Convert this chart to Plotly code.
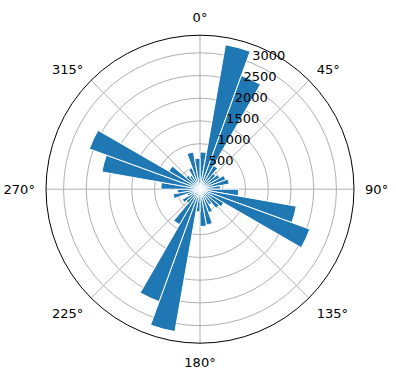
import plotly.graph_objects as go

# bin centers (degrees, clockwise from north) and counts
directions = [5, 15, 25, 35, 45, 55, 65, 75, 85,
              95, 105, 115, 125, 135, 145, 155, 165, 175,
              185, 195, 205, 215, 225, 235, 245, 255, 265,
              275, 285, 295, 305, 315, 325, 335, 345, 355]
counts = [820, 3225, 2660, 600, 450, 500, 600, 650, 450,
          850, 2150, 2570, 600, 550, 400, 550, 800, 820,
          500, 3180, 2630, 900, 400, 450, 300, 600, 500,
          860, 2190, 2590, 790, 400, 350, 500, 830, 680]
radial_ticks = [500, 1000, 1500, 2000, 2500, 3000]
radial_label_angle = 22.5
angle_ticks = [0, 45, 90, 135, 180, 225, 270, 315]
angle_labels = ["0°", "45°", "90°", "135°", "180°", "225°", "270°", "315°"]

rmax = max(counts) * 1.05

fig = go.Figure()
fig.add_trace(go.Barpolar(
    r=counts, theta=directions, width=[10] * len(directions),
    marker=dict(color="#1f77b4", line=dict(color="white", width=1)),
    hoverinfo="r+theta",
))
# radial tick labels, placed like matplotlib's (at 22.5°, text up-right of the ring)
fig.add_trace(go.Scatterpolar(
    r=radial_ticks, theta=[radial_label_angle] * len(radial_ticks),
    mode="text", text=[str(v) for v in radial_ticks],
    textposition="top right",
    textfont=dict(family="DejaVu Sans", size=13, color="black"),
    hoverinfo="skip",
))

W, H = 396, 380
cx, cy, R = 200, 189.2, 154
fig.update_layout(
    width=W, height=H,
    margin=dict(l=0, r=0, t=0, b=0),
    paper_bgcolor="white",
    showlegend=False,
    font=dict(family="DejaVu Sans", size=13, color="black"),
    polar=dict(
        domain=dict(x=[(cx - R) / W, (cx + R) / W],
                    y=[(H - cy - R) / H, (H - cy + R) / H]),
        bgcolor="white",
        bargap=0,
        angularaxis=dict(
            direction="clockwise", rotation=90,
            tickmode="array", tickvals=angle_ticks, ticktext=angle_labels,
            showline=True, linecolor="black", linewidth=1,
            showgrid=True, gridcolor="#b0b0b0", gridwidth=0.8,
            ticks="outside", ticklen=8, tickcolor="rgba(0,0,0,0)",
        ),
        radialaxis=dict(
            range=[0, rmax], tickmode="array", tickvals=radial_ticks,
            showticklabels=False,
            showline=False, ticks="", angle=67.5,
            showgrid=True, gridcolor="#b0b0b0", gridwidth=0.8,
        ),
    ),
)
fig.write_html("out.html")
